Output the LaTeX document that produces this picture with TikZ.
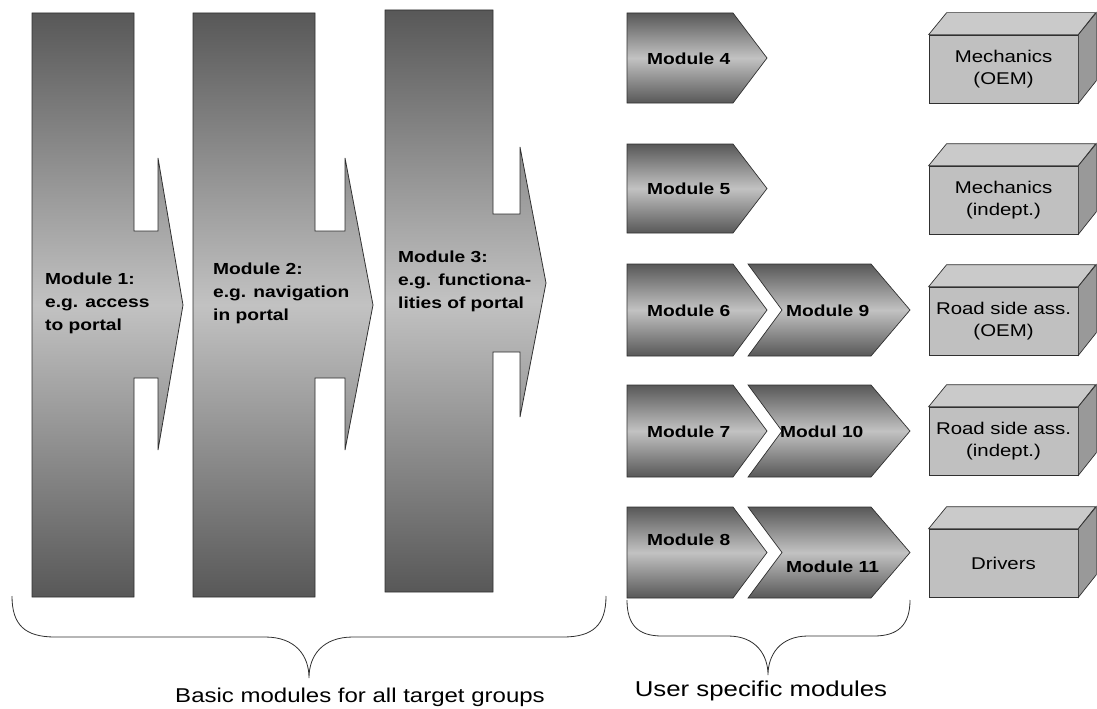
\documentclass[tikz,border=0pt]{standalone}
\usepackage{fontspec}
\setmainfont{Liberation Sans}[FakeStretch=1.2]
\definecolor{dk}{HTML}{585858}
\definecolor{lt}{HTML}{C2C2C2}
\definecolor{bfront}{HTML}{C0C0C0}
\definecolor{btop}{HTML}{CACACA}
\definecolor{bside}{HTML}{999999}
\definecolor{edge}{HTML}{303030}
\tikzset{
  bigarrow/.style={draw=edge, line width=0.8pt, top color=dk, bottom color=dk, middle color=lt},
  chev/.style={draw=edge, line width=0.7pt, top color=dk, bottom color=dk, middle color=lt},
  bigtxt/.style={font=\bfseries\fontsize{16}{23}\selectfont, align=left, anchor=north west, inner sep=0pt},
  chevtxt/.style={font=\bfseries\fontsize{16}{19}\selectfont, anchor=base west, inner sep=0pt},
  boxfront/.style={draw=edge, line width=0.7pt, fill=bfront, minimum width=149pt, minimum height=68pt, inner sep=0pt, align=center, font=\fontsize{17}{22}\selectfont},
  boxtopface/.style={draw=edge, line width=0.7pt, fill=btop},
  boxsideface/.style={draw=edge, line width=0.7pt, fill=bside},
  brace/.style={draw=edge, line width=0.8pt},
  caption/.style={anchor=base, inner sep=0pt}
}
\begin{document}
\begin{tikzpicture}[x=1pt, y=-1pt]
\useasboundingbox (0,0) rectangle (1097,709);

% big arrows
\path[bigarrow] (32,13) -- (134,13) -- (134,231) -- (158,231) -- (158,158) -- (183,305) -- (158,450) -- (158,378) -- (134,378) -- (134,597) -- (32,597) -- cycle;
\path[bigarrow] (193,13) -- (315,13) -- (315,231) -- (345,231) -- (345,158) -- (373,305) -- (345,450) -- (345,378) -- (315,378) -- (315,597) -- (193,597) -- cycle;
\path[bigarrow] (385,10) -- (493,10) -- (493,214) -- (520,214) -- (520,147) -- (546,283) -- (520,417) -- (520,352) -- (493,352) -- (493,592) -- (385,592) -- cycle;

\node[bigtxt] (t1) at (45,273) {Module 1:\\e.g. access\\to portal};
\node[bigtxt] (t2) at (213,263) {Module 2:\\e.g. navigation\\in portal};
\node[bigtxt] (t3) at (398,251) {Module 3:\\e.g. functiona-\\lities of portal};

% chevrons, first column
\foreach \top/\bot in {13/103, 144/233, 264/356, 385/477, 507/598}{
  \pgfmathsetmacro{\mid}{(\top+\bot)/2}
  \path[chev] (627,\top) -- (733,\top) -- (767,\mid) -- (733,\bot) -- (627,\bot) -- cycle;
}
% second column
\foreach \top/\bot in {264/356, 385/477, 507/598}{
  \pgfmathsetmacro{\mid}{(\top+\bot)/2}
  \path[chev] (748,\top) -- (871,\top) -- (910,\mid) -- (871,\bot) -- (748,\bot) -- (782,\mid) -- cycle;
}

\node[chevtxt] (m4) at (647,64) {Module 4};
\node[chevtxt] (m5) at (647,194) {Module 5};
\node[chevtxt] (m6) at (647,316) {Module 6};
\node[chevtxt] (m9) at (786,316) {Module 9};
\node[chevtxt] (m7) at (647,437) {Module 7};
\node[chevtxt] (m10) at (780,437) {Modul 10};
\node[chevtxt] (m8) at (647,545) {Module 8};
\node[chevtxt] (m11) at (786,572) {Module 11};

% 3D boxes
\foreach \name/\cy/\txt in {b1/69/{Mechanics\\(OEM)}, b2/200/{Mechanics\\(indept.)}, b3/321/{Road side ass.\\(OEM)}, b4/441/{Road side ass.\\(indept.)}, b5/563/{Drivers}}{
  \node[boxfront] (\name) at (1003.5,\cy) {\txt};
  \path[boxtopface] (\name.north west) -- ++(18,-22) -- ++(149,0) -- (\name.north east) -- cycle;
  \path[boxsideface] (\name.north east) -- ++(18,-22) -- ++(0,68) -- (\name.south east) -- cycle;
}

% braces
\path[brace] (12,596) .. controls (12,625) and (25,637) .. (55,637) -- (265,637)
  .. controls (295,637) and (309,655) .. (309,678)
  .. controls (309,655) and (323,637) .. (353,637) -- (563,637)
  .. controls (593,637) and (606,625) .. (606,596);
\path[brace] (627,600) .. controls (627,625) and (638,636) .. (662,636) -- (728,636)
  .. controls (756,636) and (768,655) .. (768,675)
  .. controls (768,655) and (780,636) .. (808,636) -- (874,636)
  .. controls (898,636) and (910,625) .. (910,600);

\node[caption, font=\fontsize{20}{24}\selectfont] (cap1) at (360,702) {Basic modules for all target groups};
\node[caption, font=\fontsize{21.5}{25}\selectfont] (cap2) at (761,696) {User specific modules};
\end{tikzpicture}
\end{document}
